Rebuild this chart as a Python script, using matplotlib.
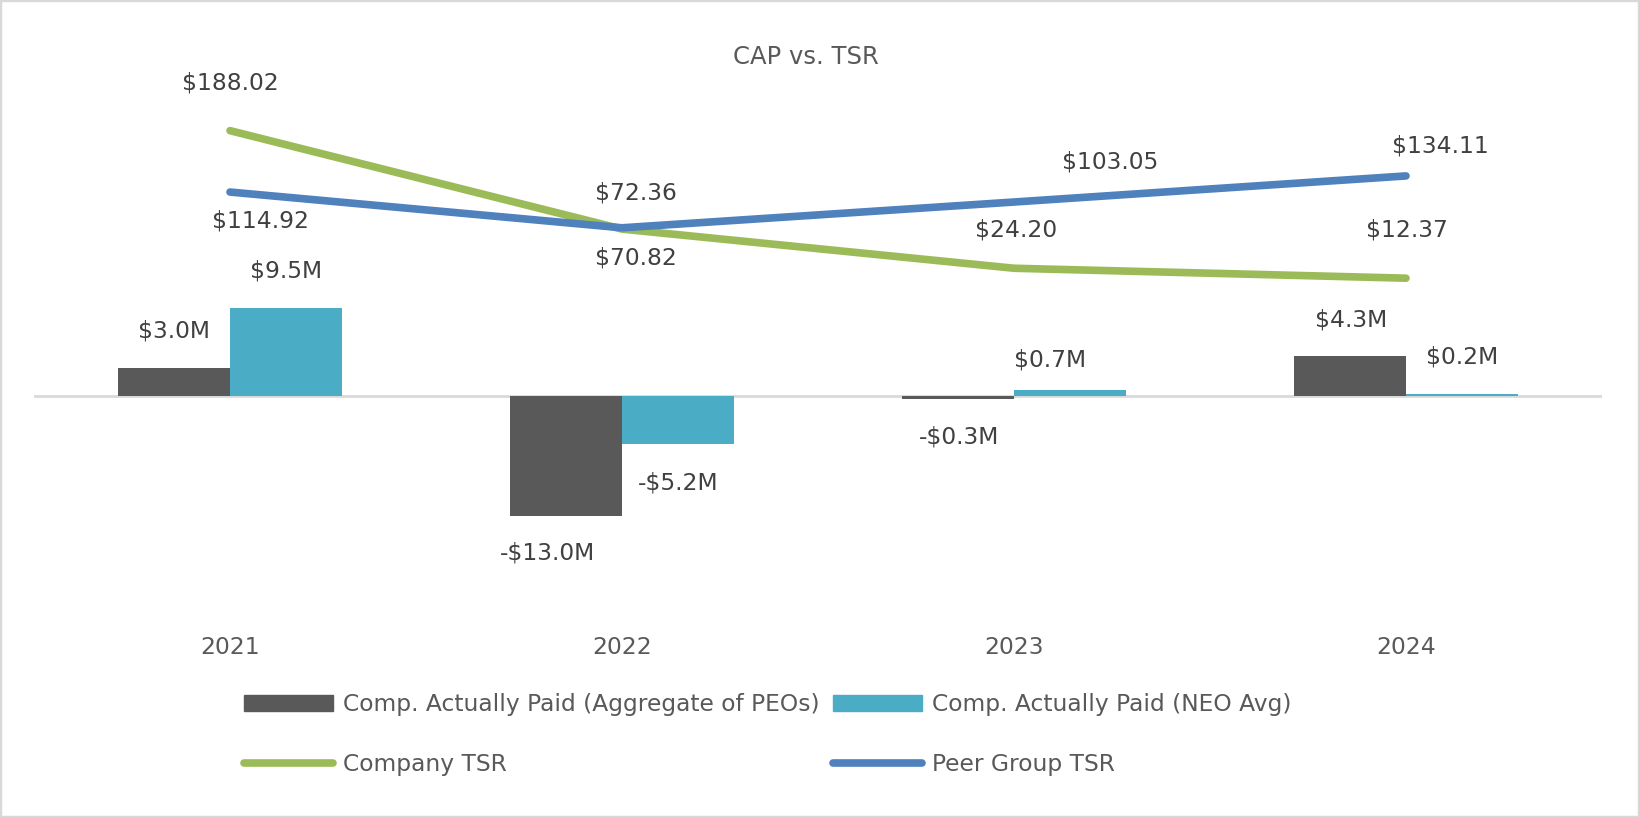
import matplotlib
matplotlib.use("Agg")
import matplotlib.pyplot as plt
from matplotlib.patches import Patch, Rectangle
from matplotlib.lines import Line2D

# ---- data ----
years = ["2021", "2022", "2023", "2024"]
cap_peo = [3.0, -13.0, -0.3, 4.3]      # Comp. Actually Paid (Aggregate of PEOs), $M
cap_neo = [9.5, -5.2, 0.7, 0.2]        # Comp. Actually Paid (NEO Avg), $M
company_tsr = [188.02, 70.82, 24.20, 12.37]
peer_tsr = [114.92, 72.36, 103.05, 134.11]

# label offsets in pixels (dx, dy), tuned to the reference layout
peo_off = [(0, 37), (-18, -37), (1, -38), (1, 36)]
neo_off = [(0, 37), (0, -39), (-20, 30), (0, 37)]
comp_off = [(0, 48), (14, -29), (2, 38), (1, 48)]
peer_off = [(31, -29), (14, 35), (96, 40), (34, 30)]

C_PEO = "#595959"
C_NEO = "#4BACC6"
C_COMP = "#9BBB59"
C_PEER = "#4F81BD"
TXT = "#404040"
FS = 16.8

W, H, DPI = 1639, 817, 100
fig = plt.figure(figsize=(W / DPI, H / DPI), dpi=DPI)
plt.rcParams['font.family'] = ['DejaVu Sans']

# plot area in pixels
left, right, top, bottom = 34, 1602, 100, 625
ax = fig.add_axes([left / W, 1 - bottom / H, (right - left) / W, (bottom - top) / H])
ax2 = ax.twinx()

x = list(range(len(years)))
bw = 0.286
ax.bar([i - bw / 2 for i in x], cap_peo, width=bw, color=C_PEO, zorder=3)
ax.bar([i + bw / 2 for i in x], cap_neo, width=bw, color=C_NEO, zorder=3)
ax.axhline(0, color="#D9D9D9", lw=2, zorder=2)

ax.set_xlim(-0.5, 3.5)
ax.set_ylim(-24.76, 32.0)
ax2.set_ylim(-400.5, 224.5)

for i, v in enumerate(cap_peo):
    s = f"-${abs(v):.1f}M" if v < 0 else f"${v:.1f}M"
    ax.annotate(s, (i - bw / 2, v), xytext=peo_off[i], textcoords="offset pixels",
                ha="center", va="center", fontsize=FS, color=TXT)
for i, v in enumerate(cap_neo):
    s = f"-${abs(v):.1f}M" if v < 0 else f"${v:.1f}M"
    ax.annotate(s, (i + bw / 2, v), xytext=neo_off[i], textcoords="offset pixels",
                ha="center", va="center", fontsize=FS, color=TXT)

ax2.plot(x, company_tsr, color=C_COMP, lw=5.5, solid_capstyle="round", solid_joinstyle="round")
ax2.plot(x, peer_tsr, color=C_PEER, lw=5.5, solid_capstyle="round", solid_joinstyle="round")
for i, v in enumerate(company_tsr):
    ax2.annotate(f"${v:.2f}", (i, v), xytext=comp_off[i], textcoords="offset pixels",
                 ha="center", va="center", fontsize=FS, color=TXT)
for i, v in enumerate(peer_tsr):
    ax2.annotate(f"${v:.2f}", (i, v), xytext=peer_off[i], textcoords="offset pixels",
                 ha="center", va="center", fontsize=FS, color=TXT)

for a in (ax, ax2):
    for sp in a.spines.values():
        sp.set_visible(False)
    a.set_yticks([])
ax2.tick_params(length=0)
ax.set_xticks(x, years)
ax.tick_params(axis="x", length=0, pad=8, labelsize=FS, labelcolor="#595959")

fig.text(806 / W, 1 - 57 / H, "CAP vs. TSR", ha="center", va="center",
         fontsize=17.5, color="#595959")

handles = [
    Patch(color=C_PEO, label="Comp. Actually Paid (Aggregate of PEOs)"),
    Line2D([], [], color=C_COMP, lw=5.5, solid_capstyle="round", label="Company TSR"),
    Patch(color=C_NEO, label="Comp. Actually Paid (NEO Avg)"),
    Line2D([], [], color=C_PEER, lw=5.5, solid_capstyle="round", label="Peer Group TSR"),
]
leg = fig.legend(handles=handles, ncol=2, loc="center left",
                 bbox_to_anchor=(244 / W, 1 - 734.5 / H), frameon=False,
                 fontsize=FS, handlelength=3.8, handleheight=0.65, handletextpad=0.43,
                 columnspacing=0.6, labelspacing=1.55, borderpad=0, borderaxespad=0)
for t in leg.get_texts():
    t.set_color("#595959")

fig.add_artist(Rectangle((0, 0), 1, 1, transform=fig.transFigure, fill=False,
                         edgecolor="#D9D9D9", lw=2.5))

fig.savefig("out.png", dpi=DPI)
